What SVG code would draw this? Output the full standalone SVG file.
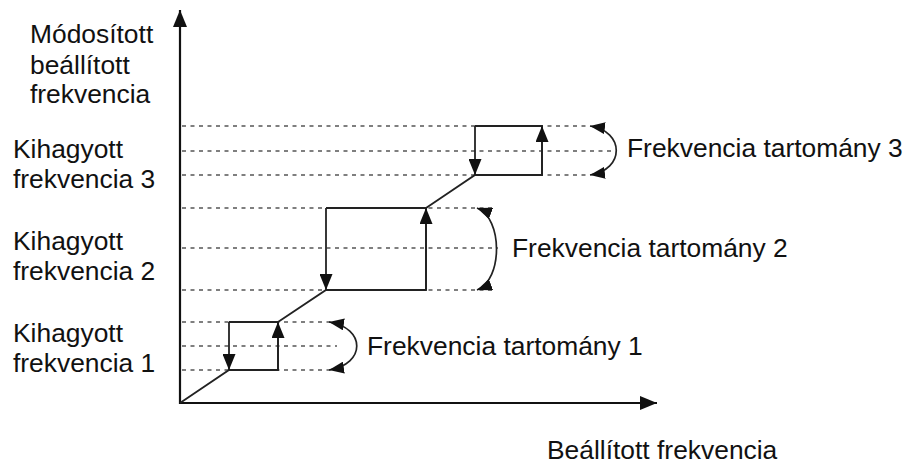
<svg xmlns="http://www.w3.org/2000/svg" width="907" height="464" viewBox="0 0 907 464">
  <style>
    .lbl { font-family: "Liberation Sans", Arial, sans-serif; font-size: 26.4px; fill: #111; }
    .axis { stroke: #111; stroke-width: 2.2; fill: none; }
    .dash { stroke: #555; stroke-width: 1.7; stroke-dasharray: 4 4.5; fill: none; }
    .curve { stroke: #222; stroke-width: 1.8; fill: none; }
    .band { stroke: #222; stroke-width: 1.7; fill: none; }
  </style>
  <defs>
    <marker id="axisHead" markerUnits="userSpaceOnUse" markerWidth="18" markerHeight="14" refX="17" refY="7" orient="auto">
      <path d="M0,0 L17,7 L0,14 z" fill="#111"/>
    </marker>
    <marker id="head" markerUnits="userSpaceOnUse" markerWidth="16" markerHeight="13" refX="16" refY="6.5" orient="auto">
      <path d="M0,0 L16,6.5 L0,13 z" fill="#111"/>
    </marker>
    <marker id="bandHead" markerUnits="userSpaceOnUse" markerWidth="15" markerHeight="12" refX="15" refY="6" orient="auto-start-reverse">
      <path d="M0,0 L15,6 L0,12 z" fill="#111"/>
    </marker>
  </defs>

  <!-- dashed reference levels -->
  <g id="levels">
    <line class="dash" x1="182" y1="126" x2="590" y2="126"/>
    <line class="dash" x1="182" y1="151" x2="612" y2="151"/>
    <line class="dash" x1="182" y1="175" x2="590" y2="175"/>
    <line class="dash" x1="182" y1="208" x2="493" y2="208"/>
    <line class="dash" x1="182" y1="248" x2="498" y2="248"/>
    <line class="dash" x1="182" y1="290" x2="493" y2="290"/>
    <line class="dash" x1="182" y1="322" x2="337" y2="322"/>
    <line class="dash" x1="182" y1="346" x2="337" y2="346"/>
    <line class="dash" x1="182" y1="370" x2="337" y2="370"/>
  </g>

  <!-- axes -->
  <g id="axes">
    <line class="axis" x1="180" y1="404" x2="180" y2="10" marker-end="url(#axisHead)"/>
    <line class="axis" x1="179" y1="403" x2="657" y2="403" marker-end="url(#axisHead)"/>
  </g>

  <!-- characteristic curve with skip bands -->
  <g id="connectors">
    <polyline class="curve" points="180,403 229,370 278,370 278,322 229,322"/>
    <polyline class="curve" points="278,322 326,290 426,290 426,208 326,208"/>
    <polyline class="curve" points="426,208 475,175 542,175 542,126 475,126"/>
    <!-- descending jumps -->
    <line class="curve" x1="229" y1="322" x2="229" y2="370" marker-end="url(#head)"/>
    <line class="curve" x1="326" y1="208" x2="326" y2="290" marker-end="url(#head)"/>
    <line class="curve" x1="475" y1="126" x2="475" y2="175" marker-end="url(#head)"/>
    <!-- ascending jumps -->
    <line class="curve" x1="278" y1="370" x2="278" y2="322" marker-end="url(#head)"/>
    <line class="curve" x1="426" y1="290" x2="426" y2="208" marker-end="url(#head)"/>
    <line class="curve" x1="542" y1="175" x2="542" y2="126" marker-end="url(#head)"/>
    <!-- band width arcs -->
    <path class="band" d="M329,322 C366,328 366,364 329,370" marker-start="url(#bandHead)" marker-end="url(#bandHead)"/>
    <path class="band" d="M477,208 C503,218 503,280 477,290" marker-start="url(#bandHead)" marker-end="url(#bandHead)"/>
    <path class="band" d="M590,126 C625,131 625,170 590,175" marker-start="url(#bandHead)" marker-end="url(#bandHead)"/>
  </g>

  <!-- axis titles -->
  <g id="y-title">
    <text class="lbl" x="30" y="43">Módosított</text>
    <text class="lbl" x="30" y="74">beállított</text>
    <text class="lbl" x="30" y="103">frekvencia</text>
  </g>
  <g id="x-title">
    <text class="lbl" x="547" y="459">Beállított frekvencia</text>
  </g>

  <!-- skipped frequency labels -->
  <g id="skip-3">
    <text class="lbl" x="13" y="158">Kihagyott</text>
    <text class="lbl" x="13" y="188">frekvencia 3</text>
  </g>
  <g id="skip-2">
    <text class="lbl" x="13" y="250">Kihagyott</text>
    <text class="lbl" x="13" y="280">frekvencia 2</text>
  </g>
  <g id="skip-1">
    <text class="lbl" x="13" y="342">Kihagyott</text>
    <text class="lbl" x="13" y="372">frekvencia 1</text>
  </g>

  <!-- band labels -->
  <g id="band-3"><text class="lbl" x="627" y="157">Frekvencia tartomány 3</text></g>
  <g id="band-2"><text class="lbl" x="512" y="257">Frekvencia tartomány 2</text></g>
  <g id="band-1"><text class="lbl" x="367" y="355">Frekvencia tartomány 1</text></g>
</svg>
